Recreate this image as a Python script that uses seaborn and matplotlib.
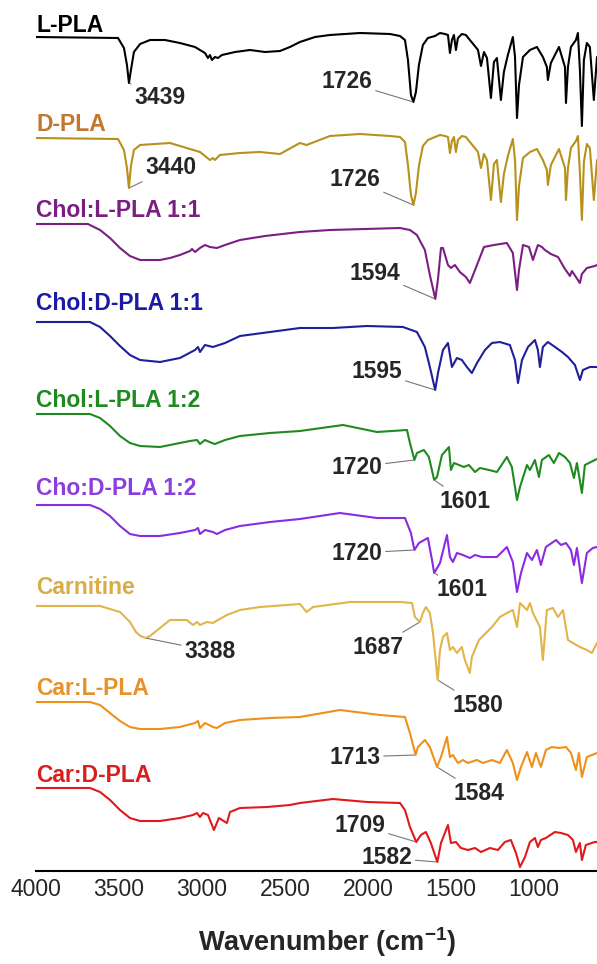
import numpy as np
import pandas as pd
import seaborn as sns
import matplotlib.pyplot as plt

# FTIR spectra, (wavenumber, relative transmittance)
l_pla = [(4000, 0), (3506, -1), (3470, -11), (3452, -28), (3440, -46), (3428, -33), (3410, -15),
         (3373, -7), (3313, -3), (3223, -3), (3133, -6), (3042, -10), (2982, -16), (2964, -21),
         (2952, -18), (2940, -23), (2922, -20), (2904, -21), (2880, -18), (2801, -15), (2711, -13),
         (2620, -15), (2530, -14), (2470, -10), (2410, -5), (2319, 0), (2229, 2), (2048, 4),
         (1867, 3), (1807, 1), (1777, -3), (1759, -23), (1741, -58), (1726, -65), (1711, -55),
         (1693, -28), (1669, -8), (1639, -1), (1596, 1), (1566, 4), (1536, 3), (1518, 2),
         (1506, -16), (1494, -3), (1482, 2), (1470, -13), (1458, -1), (1434, 3), (1410, 2),
         (1386, -3), (1361, -8), (1337, -13), (1319, -29), (1301, -15), (1283, -21), (1259, -61),
         (1241, -25), (1223, -21), (1199, -63), (1181, -35), (1157, -18), (1127, 0), (1114, -20),
         (1102, -81), (1090, -48), (1066, -20), (1024, -13), (982, -10), (946, -20), (922, -30),
         (916, -43), (898, -26), (849, -10), (813, -30), (807, -66), (795, -30), (777, -10),
         (747, -3), (735, 4), (723, -33), (711, -89), (699, -23), (681, -6), (663, -10),
         (639, -63), (620, -20)]
d_pla = [(4000, 0), (3506, -1), (3470, -12), (3452, -30), (3440, -50), (3428, -28), (3410, -12),
         (3373, -7), (3193, -5), (3012, -14), (2952, -22), (2934, -20), (2922, -22), (2892, -17),
         (2771, -15), (2651, -14), (2530, -16), (2410, -5), (2370, -7), (2229, 2), (2048, 4),
         (1867, 2), (1807, 1), (1777, -4), (1759, -27), (1741, -57), (1726, -67), (1711, -55),
         (1693, -28), (1669, -8), (1639, -2), (1596, 1), (1566, 3), (1536, 2), (1518, 1),
         (1506, -15), (1494, -3), (1482, 1), (1470, -14), (1458, -2), (1434, 2), (1410, 1),
         (1386, -4), (1361, -9), (1337, -14), (1319, -30), (1301, -16), (1283, -22), (1259, -62),
         (1241, -26), (1223, -22), (1199, -64), (1181, -36), (1157, -18), (1127, -1), (1114, -22),
         (1102, -82), (1090, -48), (1066, -20), (1024, -14), (982, -11), (946, -22), (922, -32),
         (916, -47), (898, -27), (849, -11), (813, -30), (807, -62), (795, -30), (777, -10),
         (747, -3), (735, 2), (723, -35), (711, -82), (699, -24), (681, -6), (663, -10),
         (639, -62), (620, -22)]
chol_l_11 = [(4000, 0), (3687, 0), (3614, -6), (3554, -14), (3494, -24), (3434, -32), (3373, -36),
             (3253, -36), (3193, -34), (3133, -31), (3072, -27), (3060, -25), (3042, -28),
             (3012, -24), (2982, -21), (2952, -23), (2910, -24), (2861, -21), (2771, -16),
             (2620, -12), (2410, -8), (2229, -6), (1807, -4), (1747, -6), (1705, -11), (1657, -26),
             (1627, -51), (1594, -75), (1578, -55), (1560, -24), (1548, -24), (1518, -41),
             (1500, -44), (1476, -41), (1446, -48), (1410, -53), (1386, -59), (1355, -46),
             (1301, -23), (1241, -21), (1163, -19), (1127, -29), (1102, -66), (1090, -46),
             (1066, -21), (1030, -23), (1006, -36), (976, -21), (952, -23), (934, -26), (898, -30),
             (855, -33), (813, -45), (783, -52), (771, -47), (723, -59), (711, -50), (681, -44),
             (633, -42), (620, -41)]
chol_d_11 = [(4000, 0), (3675, 0), (3614, -5), (3554, -14), (3494, -24), (3434, -33), (3373, -38),
             (3253, -40), (3133, -36), (3042, -28), (3024, -25), (3012, -30), (2982, -23),
             (2934, -25), (2861, -21), (2771, -14), (2590, -10), (2410, -6), (2211, -6), (2006, -4),
             (1789, -5), (1705, -10), (1657, -25), (1627, -45), (1595, -68), (1578, -51),
             (1548, -28), (1518, -21), (1494, -45), (1464, -36), (1434, -38), (1404, -45),
             (1374, -51), (1343, -41), (1295, -28), (1253, -21), (1205, -20), (1145, -23),
             (1114, -38), (1096, -61), (1072, -38), (1036, -25), (994, -18), (976, -28), (964, -45),
             (946, -25), (916, -20), (873, -25), (831, -30), (795, -35), (753, -43), (723, -58),
             (705, -48), (663, -45), (620, -45)]
chol_l_12 = [(4000, 0), (3675, 0), (3614, -4), (3554, -12), (3494, -22), (3434, -29), (3373, -32),
             (3253, -33), (3133, -29), (3072, -27), (3030, -26), (3012, -30), (2982, -26),
             (2940, -29), (2922, -30), (2861, -26), (2771, -22), (2590, -19), (2410, -17),
             (2150, -11), (1946, -18), (1765, -16), (1747, -29), (1720, -46), (1705, -39),
             (1663, -36), (1633, -43), (1601, -66), (1584, -63), (1554, -41), (1512, -33),
             (1500, -56), (1482, -49), (1452, -51), (1422, -53), (1392, -51), (1355, -58),
             (1325, -54), (1271, -56), (1223, -58), (1163, -43), (1133, -53), (1102, -86),
             (1084, -73), (1042, -51), (1024, -56), (994, -46), (970, -63), (952, -46), (910, -41),
             (880, -49), (849, -39), (813, -43), (783, -49), (759, -64), (741, -49), (711, -79),
             (693, -51), (633, -46), (620, -45)]
cho_d_12 = [(4000, 0), (3675, 0), (3614, -4), (3554, -11), (3494, -21), (3434, -29), (3373, -31),
            (3253, -31), (3133, -28), (3042, -25), (3024, -23), (3012, -29), (2982, -25),
            (2934, -27), (2910, -29), (2861, -25), (2771, -21), (2590, -17), (2410, -14),
            (2169, -8), (1946, -13), (1777, -13), (1741, -28), (1720, -45), (1693, -38),
            (1639, -33), (1614, -55), (1601, -68), (1566, -58), (1524, -30), (1506, -52),
            (1488, -57), (1464, -48), (1428, -50), (1386, -53), (1355, -50), (1313, -52),
            (1277, -52), (1223, -52), (1163, -42), (1127, -57), (1102, -87), (1078, -68),
            (1042, -48), (1012, -55), (982, -45), (958, -60), (928, -42), (867, -35), (837, -40),
            (807, -38), (777, -45), (759, -60), (741, -43), (711, -78), (681, -48), (645, -43),
            (620, -42)]
carnitine = [(4000, 0), (3614, 0), (3554, -3), (3494, -6), (3434, -16), (3398, -26), (3370, -30),
             (3340, -32), (3313, -30), (3253, -22), (3193, -14), (3092, -14), (3054, -19),
             (3030, -16), (3012, -19), (2970, -16), (2934, -17), (2904, -14), (2850, -9), (2771, -4),
             (2651, -1), (2410, 2), (2370, -6), (2331, -1), (2108, 4), (1807, 4), (1735, 3),
             (1717, -11), (1687, -16), (1669, -7), (1651, -1), (1627, -7), (1608, -27), (1580, -74),
             (1566, -44), (1548, -31), (1524, -27), (1506, -44), (1488, -41), (1464, -47),
             (1434, -41), (1416, -54), (1386, -67), (1374, -51), (1331, -34), (1289, -27),
             (1253, -21), (1205, -11), (1163, -7), (1127, -4), (1102, -21), (1084, 3), (1042, -4),
             (1024, 3), (1006, -7), (964, -21), (946, -54), (922, -4), (886, -2), (855, -11),
             (825, -4), (795, -34), (765, -37), (723, -41), (681, -44), (651, -47), (620, -37)]
car_l = [(4000, 0), (3675, 0), (3614, -3), (3554, -11), (3494, -19), (3434, -25), (3373, -27),
         (3253, -27), (3133, -25), (3042, -21), (3024, -19), (3012, -26), (2982, -21), (2934, -25),
         (2910, -26), (2861, -21), (2771, -18), (2590, -16), (2410, -15), (2169, -8), (1928, -13),
         (1777, -15), (1747, -31), (1713, -53), (1699, -45), (1657, -38), (1627, -45), (1584, -65),
         (1560, -55), (1524, -35), (1506, -55), (1488, -53), (1458, -61), (1428, -58), (1398, -61),
         (1343, -58), (1307, -61), (1253, -58), (1205, -61), (1163, -48), (1127, -61), (1102, -78),
         (1078, -65), (1042, -50), (1012, -65), (988, -51), (958, -65), (928, -48), (892, -45),
         (849, -46), (807, -45), (777, -51), (747, -68), (729, -51), (711, -75), (681, -55),
         (620, -51)]
car_d = [(4000, 0), (3675, 0), (3614, -4), (3554, -12), (3494, -22), (3434, -30), (3373, -33),
         (3253, -33), (3133, -30), (3054, -27), (3030, -25), (3012, -29), (2994, -25), (2964, -27),
         (2928, -42), (2898, -30), (2850, -35), (2831, -24), (2771, -20), (2608, -19), (2470, -17),
         (2410, -15), (2211, -11), (2006, -14), (1807, -15), (1777, -22), (1747, -39), (1709, -54),
         (1681, -47), (1651, -44), (1621, -55), (1582, -74), (1560, -55), (1518, -37), (1500, -55),
         (1470, -54), (1440, -60), (1398, -62), (1355, -60), (1319, -64), (1265, -60), (1217, -62),
         (1175, -54), (1139, -52), (1108, -65), (1084, -79), (1054, -69), (1024, -54), (994, -50),
         (976, -59), (958, -52), (928, -50), (874, -44), (837, -45), (795, -47), (765, -52),
         (747, -64), (723, -55), (711, -72), (687, -57), (633, -54), (620, -54)]

names = ['L-PLA', 'D-PLA', 'Chol:L-PLA 1:1', 'Chol:D-PLA 1:1', 'Chol:L-PLA 1:2',
         'Cho:D-PLA 1:2', 'Carnitine', 'Car:L-PLA', 'Car:D-PLA']
spectra = [l_pla, d_pla, chol_l_11, chol_d_11, chol_l_12, cho_d_12, carnitine, car_l, car_d]

# peak labels: sample index, peak position used for the leader, text
peak_sample = [0, 1, 0, 1, 2, 3, 4, 4, 5, 5, 6, 6, 6, 7, 7, 8, 8]
peak_wn = [3440, 3440, 1726, 1726, 1594, 1595, 1720, 1601, 1720, 1601, 3340, 1687, 1580,
           1713, 1584, 1709, 1582]
peak_text = ['3439', '3440', '1726', '1726', '1594', '1595', '1720', '1601', '1720', '1601',
             '3388', '1687', '1580', '1713', '1584', '1709', '1582']

# layout / style
offsets = [842, 741, 655, 557, 465, 374, 273, 177, 91]
name_gap = [5, 7, 7, 12, 7, 10, 12, 7, 6]
text_pos = [(3253, 781), (3187, 711), (2127, 797), (2078, 699), (1958, 606), (1946, 507),
            (2066, 412), (1416, 378), (2066, 326), (1434, 289), (2952, 228), (1940, 232),
            (1337, 174), (2078, 122), (1331, 86), (2048, 54), (1886, 21)]
line_colors = ['#000000', '#b8901c', '#7a1f82', '#1f1f9a', '#1f8a1f', '#8a2be2', '#e2b54a',
               '#f0901c', '#e0191c']
name_colors = ['#000000', '#c2772e', '#7a1f82', '#1a1aa6', '#1f8a1f', '#8a3ee0', '#d9ad45',
               '#e8912a', '#d81e1e']
spine_px = 871


def build_frame():
    rows = []
    for name, pts, off in zip(names, spectra, offsets):
        for wn, t in pts:
            rows.append({'sample': name, 'wn': wn, 'y': off + t})
    return pd.DataFrame(rows)


def draw(df):
    sns.set_style('white')
    plt.rcParams['font.family'] = ['Liberation Sans', 'DejaVu Sans']
    plt.rcParams['mathtext.fontset'] = 'custom'
    plt.rcParams['mathtext.bf'] = 'Liberation Sans:bold'

    fig = plt.figure(figsize=(5.97, 9.64), dpi=100)
    ax = fig.add_axes([36 / 597, (964 - spine_px) / 964, 561 / 597, spine_px / 964])

    sns.lineplot(data=df, x='wn', y='y', hue='sample', palette=dict(zip(names, line_colors)),
                 estimator=None, sort=False, legend=False, linewidth=1.5, ax=ax)

    for name, off, gap, c in zip(names, offsets, name_gap, name_colors):
        ax.text(4000, off + gap, name, color=c, fontsize=16.5, fontweight='bold',
                ha='left', va='baseline')

    for i, wn, txt, pos in zip(peak_sample, peak_wn, peak_text, text_pos):
        pts = np.array(spectra[i])
        y = offsets[i] + np.interp(wn, pts[::-1, 0], pts[::-1, 1])
        ax.annotate(txt, xy=(wn, y), xytext=pos, fontsize=16.5, fontweight='bold',
                    ha='center', va='center',
                    arrowprops=dict(arrowstyle='-', color='#777777', lw=0.8,
                                    shrinkA=0, shrinkB=1))

    ax.set_xlim(4000, 620)
    ax.set_ylim(879 - spine_px, 879)
    ax.set_yticks([])
    ax.set_xticks([4000, 3500, 3000, 2500, 2000, 1500, 1000])
    ax.set_xticks(np.arange(3750, 620, -500), minor=True)
    ax.tick_params(axis='x', which='major', direction='in', length=9, width=1.5,
                   labelsize=16.5, pad=5)
    ax.tick_params(axis='x', which='minor', direction='in', length=4.5, width=1.5)
    for s in ['top', 'left', 'right']:
        ax.spines[s].set_visible(False)
    ax.spines['bottom'].set_linewidth(1.5)
    ax.spines['bottom'].set_color('black')
    ax.set_ylabel('')
    ax.set_xlabel('Wavenumber (cm$^{\\mathbf{-1}}$)', fontsize=19.5, fontweight='bold')
    ax.xaxis.set_label_coords(0.519, -(942 - spine_px) / spine_px)
    ax.xaxis.label.set_va('center')

    fig.savefig('out.png', dpi=100)


if __name__ == '__main__':
    dane = build_frame()
    draw(dane)
